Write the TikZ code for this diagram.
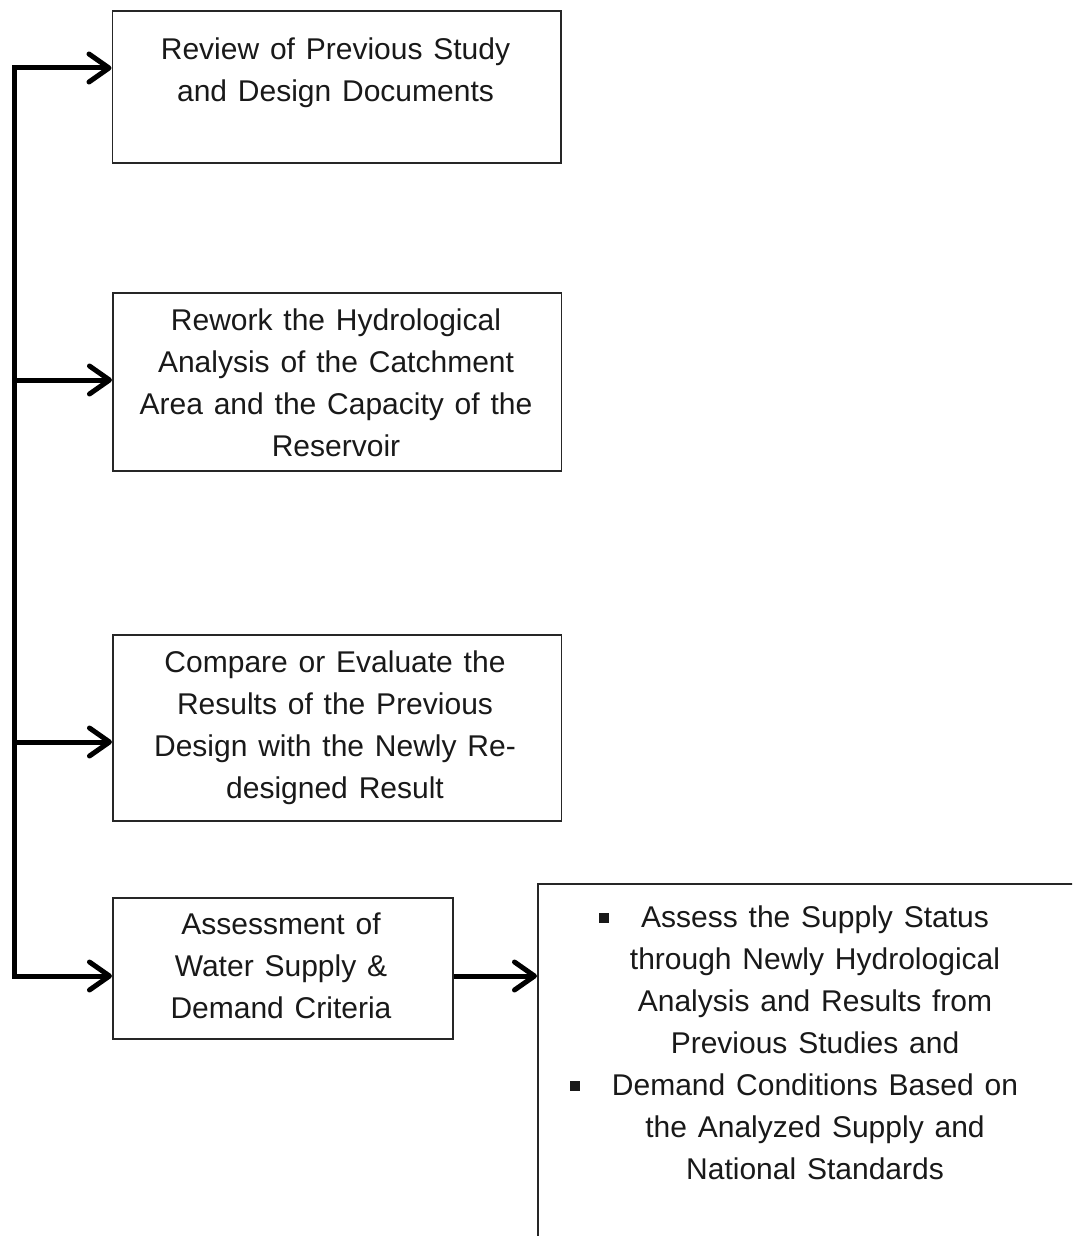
\documentclass[tikz,border=0pt]{standalone}
\usepackage{fontspec}
\setmainfont[WordSpace=1.3]{Liberation Sans}
\usetikzlibrary{arrows.meta}
% small filled square that hangs to the left of a centred line
\newcommand\sqbullet{\llap{\rule[5pt]{10pt}{10pt}\hspace{32pt}}}
\begin{document}
\begin{tikzpicture}[x=1pt,y=-1pt,
  box/.style={draw=black!85, line width=1.8pt, rectangle, inner sep=0pt, anchor=north west},
  txt/.style={align=center, anchor=north, inner sep=0pt, text=black!90,
              font=\fontsize{30}{42}\selectfont},
  spine/.style={line width=5pt, line cap=rect},
  arr/.style={line width=5pt, -{Straight Barb[length=20pt,width=28pt,round]}}]
\useasboundingbox (0,0) rectangle (1072,1236);
\clip (0,0) rectangle (1072,1236);

% boxes
\node[box, minimum width=448.5pt, minimum height=152pt] (b1) at (111.5,10) {};
\node[box, minimum width=448.5pt, minimum height=178pt] (b2) at (112,292) {};
\node[box, minimum width=448.5pt, minimum height=186pt] (b3) at (112,634) {};
\node[box, minimum width=340pt, minimum height=141pt] (b4) at (112,897) {};
\node[box, minimum width=600pt, minimum height=400pt] (b5) at (537,883) {};

% box texts
\node[txt] (t1) at (335.5,38) {Review of Previous Study\\and Design Documents};
\node[txt] (t2) at (336,309) {Rework the Hydrological\\Analysis of the Catchment\\Area and the Capacity of the\\Reservoir};
\node[txt] (t3) at (335,651) {Compare or Evaluate the\\Results of the Previous\\Design with the Newly Re-\\designed Result};
\node[txt] (t4) at (281,913) {Assessment of\\Water Supply \&\\Demand Criteria};
\node[txt] (t5) at (815,906) {\sqbullet Assess the Supply Status\\through Newly Hydrological\\Analysis and Results from\\Previous Studies and\\\sqbullet Demand Conditions Based on\\the Analyzed Supply and\\National Standards};

% left spine with its branches
\coordinate (s1) at (14.5,68);
\coordinate (s2) at (14.5,380);
\coordinate (s3) at (14.5,742);
\coordinate (s4) at (14.5,976);
\draw[spine] (s1) -- (s4);
\draw[arr] (s1) -- (s1 -| b1.west);
\draw[arr] (s2) -- (s2 -| b2.west);
\draw[arr] (s3) -- (s3 -| b3.west);
\draw[arr] (s4) -- (s4 -| b4.west);
\draw[arr] (s4 -| b4.east) -- (s4 -| b5.west);
\end{tikzpicture}
\end{document}
